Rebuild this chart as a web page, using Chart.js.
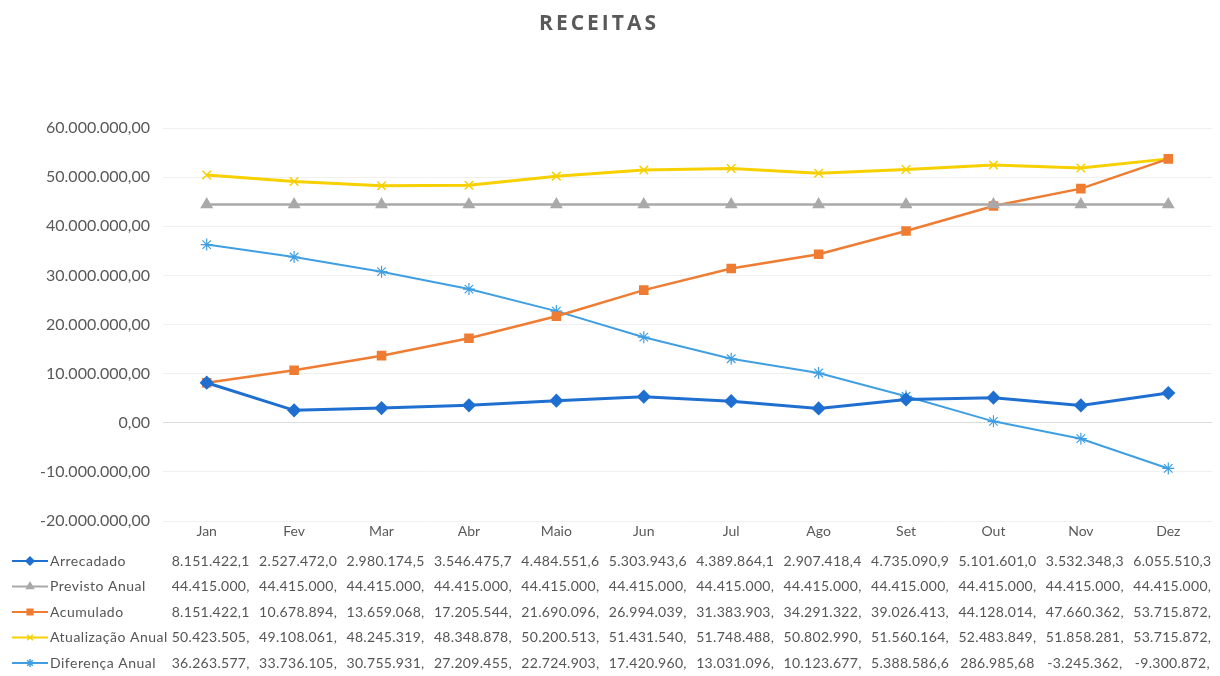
<!DOCTYPE html>
<html>
<head>
<meta charset="utf-8">
<script src="https://cdn.jsdelivr.net/npm/chart.js@4"></script>
<style>
    body { margin: 0; background: #fff; }
    .wrap { position: relative; width: 1220px; height: 676px; }
    .titulo {
        position: absolute; left: 0; top: 7px; width: 1198px;
        text-align: center; font-family: 'Open Sans'; font-weight: bold;
        font-size: 21px; letter-spacing: 3px; color: #595959; line-height: 30px;
    }
</style>
</head>
<body>
<div class="wrap">
    <div class="titulo">RECEITAS</div>
    <canvas id="receitasChart" width="1220" height="676"></canvas>
</div>
<script>
var meses = ['Jan', 'Fev', 'Mar', 'Abr', 'Maio', 'Jun', 'Jul', 'Ago', 'Set', 'Out', 'Nov', 'Dez']

var arrecadado = [8151422.1, 2527472.0, 2980174.5, 3546475.7, 4484551.6, 5303943.6, 4389864.1, 2907418.4, 4735090.9, 5101601.0, 3532348.3, 6055510.3]
var previstoAnual = [44415000, 44415000, 44415000, 44415000, 44415000, 44415000, 44415000, 44415000, 44415000, 44415000, 44415000, 44415000]
var acumulado = [8151422.1, 10678894, 13659068, 17205544, 21690096, 26994039, 31383903, 34291322, 39026413, 44128014, 47660362, 53715872]
var atualizacaoAnual = [50423505, 49108061, 48245319, 48348878, 50200513, 51431540, 51748488, 50802990, 51560164, 52483849, 51858281, 53715872]
var diferencaAnual = [36263577, 33736105, 30755931, 27209455, 22724903, 17420960, 13031096, 10123677, 5388586.6, 286985.68, -3245362, -9300872]

var yMin = -20000000
var yMax = 60000000
var yStep = 10000000

// formato brasileiro: 8.151.422,10
function fmtBR(v) {
    var neg = v < 0
    var parts = Math.abs(v).toFixed(2).split('.')
    var inteiro = parts[0].replace(/\B(?=(\d{3})+(?!\d))/g, '.')
    return (neg ? '-' : '') + inteiro + ',' + parts[1]
}

// tabela de dados abaixo do grafico (como no Excel)
var tabelaPlugin = {
    id: 'tabela',
    afterDraw(chart) {
        var ctx = chart.ctx
        var xScale = chart.scales.x
        ctx.save()
        ctx.textBaseline = 'middle'
        chart.data.datasets.forEach(function (ds, i) {
            var y = 561 + i * 25.5
            // chave da legenda
            ctx.strokeStyle = ds.borderColor
            ctx.lineWidth = 2
            ctx.beginPath()
            ctx.moveTo(12, y)
            ctx.lineTo(48, y)
            ctx.stroke()
            ctx.fillStyle = ds.backgroundColor
            ctx.lineWidth = 1.5
            Chart.helpers.drawPoint(ctx, { pointStyle: ds.pointStyle, radius: 4, rotation: 0, borderWidth: 1.5 }, 30, y)

            ctx.fillStyle = '#555555'
            ctx.font = '14px Lato'
            ctx.letterSpacing = '0.5px'
            ctx.textAlign = 'left'
            ctx.fillText(ds.label, 50, y)

            ctx.letterSpacing = '0.3px'
            ctx.textAlign = 'center'
            ds.data.forEach(function (v, j) {
                ctx.fillText(fmtBR(v).slice(0, 11), xScale.getPixelForValue(j) + 4, y)
            })
        })
        ctx.restore()
    }
}

var receitasChart = new Chart(document.getElementById('receitasChart'), {
    type: 'line',
    data: {
        labels: meses,
        datasets: [
            {
                label: 'Arrecadado',
                data: arrecadado,
                borderColor: '#1f6fd1',
                backgroundColor: '#1f6fd1',
                borderWidth: 3,
                pointStyle: 'rectRot',
                pointRadius: 5,
            },
            {
                label: 'Previsto Anual',
                data: previstoAnual,
                borderColor: '#a9a9a9',
                backgroundColor: '#a9a9a9',
                borderWidth: 2.5,
                pointStyle: 'triangle',
                pointRadius: 5,
            },
            {
                label: 'Acumulado',
                data: acumulado,
                borderColor: '#ee7d33',
                backgroundColor: '#ee7d33',
                borderWidth: 2.5,
                pointStyle: 'rect',
                pointRadius: 5,
            },
            {
                label: 'Atualização Anual',
                data: atualizacaoAnual,
                borderColor: '#f7d000',
                backgroundColor: '#f7d000',
                borderWidth: 3,
                pointStyle: 'crossRot',
                pointRadius: 6,
                pointBorderWidth: 1.5,
            },
            {
                label: 'Diferença Anual',
                data: diferencaAnual,
                borderColor: '#3f9fe2',
                backgroundColor: '#3f9fe2',
                borderWidth: 2,
                pointStyle: 'star',
                pointRadius: 6,
                pointBorderWidth: 1.2,
            }
        ]
    },
    options: {
        responsive: false,
        animation: false,
        layout: { padding: { top: 128, right: 0, left: 0, bottom: 0 } },
        plugins: {
            legend: { display: false },
            title: { display: false },
            tooltip: { enabled: false }
        },
        scales: {
            x: {
                offset: true,
                grid: { display: false, drawTicks: false },
                border: { display: false },
                ticks: { color: '#595959', font: { family: 'Lato', size: 14 }, padding: 2, maxRotation: 0 },
                afterFit(scale) { scale.height = 155 }
            },
            y: {
                min: yMin,
                max: yMax,
                grid: {
                    drawTicks: false,
                    color: (c) => c.tick && c.tick.value === 0 ? '#dcdcdc' : '#f0f0f0'
                },
                border: { display: false },
                ticks: {
                    stepSize: yStep,
                    color: '#595959',
                    font: { family: 'Lato', size: 16 },
                    padding: 13,
                    callback: (v) => fmtBR(v)
                },
                afterFit(scale) { scale.width = 163 }
            }
        }
    },
    plugins: [tabelaPlugin]
})
</script>
</body>
</html>
